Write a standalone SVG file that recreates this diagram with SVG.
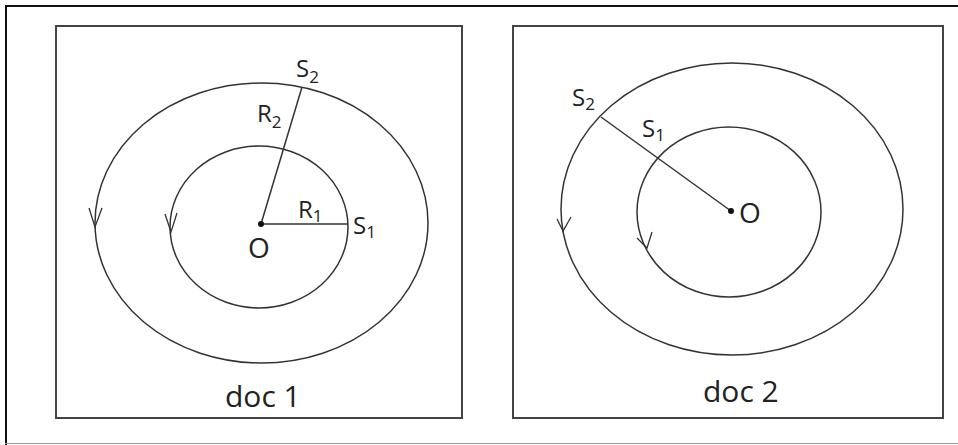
<svg xmlns="http://www.w3.org/2000/svg" width="958" height="445" viewBox="0 0 958 445">
<style>
.frame{fill:none;stroke:#111;stroke-width:2}
.panel{fill:none;stroke:#444;stroke-width:2}
.orbit{fill:none;stroke:#333;stroke-width:1.5}
.rad{fill:none;stroke:#333;stroke-width:1.5}
.arr{fill:none;stroke:#333;stroke-width:1.3}
.lbl{font-family:"Open Sans","Noto Sans",sans-serif;fill:#222;font-size:24px}
.sub{font-size:17px}
.big{font-family:"Open Sans","Noto Sans",sans-serif;fill:#222;font-size:30px}
</style>
<rect width="958" height="445" fill="#fff"/>
<g id="frame">
<line class="frame" x1="5" y1="6" x2="958" y2="6"/>
<line class="frame" x1="6" y1="5" x2="6" y2="445"/>
<line x1="5" y1="443.5" x2="958" y2="443.5" stroke="#999" stroke-width="1"/>
</g>
<g id="panel1">
<rect class="panel" x="56" y="26" width="406" height="392"/>
<ellipse class="orbit" cx="261.5" cy="223" rx="166.5" ry="140"/>
<ellipse class="orbit" cx="259" cy="227" rx="89" ry="81"/>
<text class="big" x="225" y="407">doc 1</text>
</g>
<g id="panel2">
<rect class="panel" x="513" y="26" width="430" height="392"/>
<ellipse class="orbit" cx="732" cy="209" rx="171" ry="146"/>
<ellipse class="orbit" cx="729" cy="212" rx="92" ry="85"/>
<text class="big" x="703" y="402">doc 2</text>
</g>
<g id="connectors">
<line class="rad" x1="261" y1="224" x2="348" y2="224"/>
<line class="rad" x1="261" y1="224" x2="302" y2="87"/>
<line class="rad" x1="731" y1="211" x2="601" y2="117"/>
<circle cx="261" cy="224" r="3" fill="#111"/>
<circle cx="731" cy="211" r="3" fill="#111"/>
<polyline class="arr" points="89,208 95,227 102,208"/>
<polyline class="arr" points="165,214 171,232 177,213"/>
<polyline class="arr" points="557,219 563,231 571,217"/>
<polyline class="arr" points="637,238 647,248 652,232"/>
</g>
<g id="labels">
<text class="lbl" x="296" y="77">S<tspan class="sub" dy="6">2</tspan></text>
<text class="lbl" x="257" y="122">R<tspan class="sub" dy="6">2</tspan></text>
<text class="lbl" x="298" y="218">R<tspan class="sub" dy="4">1</tspan></text>
<text class="lbl" x="353" y="234">S<tspan class="sub" dy="4">1</tspan></text>
<text class="big" x="248" y="258" style="font-size:28px">O</text>
<text class="lbl" x="572" y="106">S<tspan class="sub" dy="4">2</tspan></text>
<text class="lbl" x="642" y="137">S<tspan class="sub" dy="4">1</tspan></text>
<text class="big" x="739" y="223" style="font-size:28px">O</text>
</g>
</svg>
